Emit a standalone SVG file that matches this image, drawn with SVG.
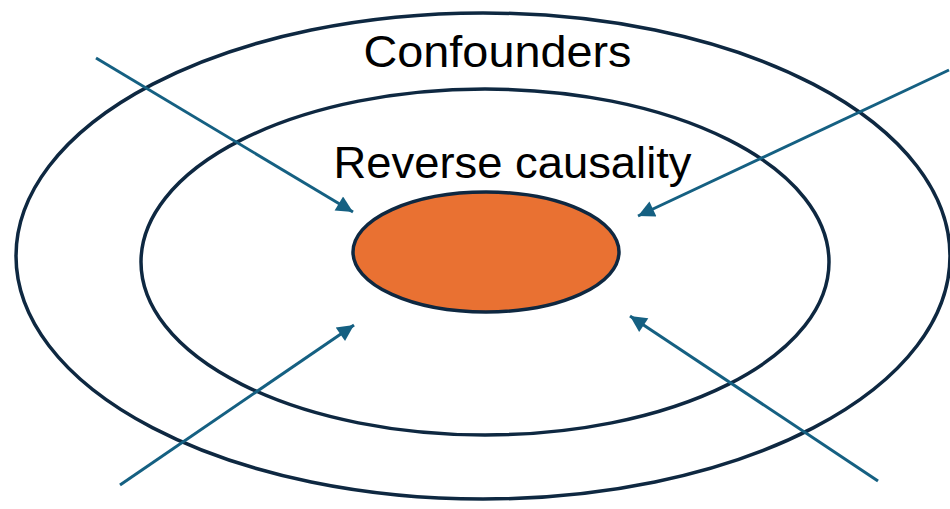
<svg xmlns="http://www.w3.org/2000/svg" width="950" height="509" viewBox="0 0 950 509">
<style>
.ring{fill:none;stroke:#0e2841;stroke-width:3.5}
.arr{stroke:#156082;stroke-width:3;fill:none}
.lbl{font-family:"Liberation Sans",Arial,sans-serif;font-size:45px;fill:#000;text-anchor:middle}
</style>
<defs>
<marker id="ah" viewBox="0 0 10 10" refX="10" refY="5" markerWidth="6.5" markerHeight="5.5" markerUnits="strokeWidth" orient="auto">
<path d="M0,0 L10,5 L0,10 z" fill="#156082"/>
</marker>
</defs>
<rect width="950" height="509" fill="#fff"/>
<g id="confounders">
<ellipse class="ring" cx="483" cy="256" rx="467" ry="243"/>
<text class="lbl" x="497.5" y="67" textLength="268" lengthAdjust="spacingAndGlyphs">Confounders</text>
</g>
<g id="reverse-causality">
<ellipse class="ring" cx="485" cy="262" rx="344" ry="173"/>
<text class="lbl" x="512.5" y="178" textLength="358" lengthAdjust="spacingAndGlyphs">Reverse causality</text>
</g>
<g id="core">
<ellipse cx="486" cy="252" rx="133" ry="60" fill="#e97132" stroke="#0e2841" stroke-width="3.5"/>
</g>
<g id="connectors">
<line class="arr" x1="96" y1="58" x2="353" y2="212" marker-end="url(#ah)"/>
<line class="arr" x1="949" y1="70" x2="638" y2="216" marker-end="url(#ah)"/>
<line class="arr" x1="120" y1="485" x2="354" y2="325" marker-end="url(#ah)"/>
<line class="arr" x1="878" y1="481" x2="630" y2="316" marker-end="url(#ah)"/>
</g>
</svg>
